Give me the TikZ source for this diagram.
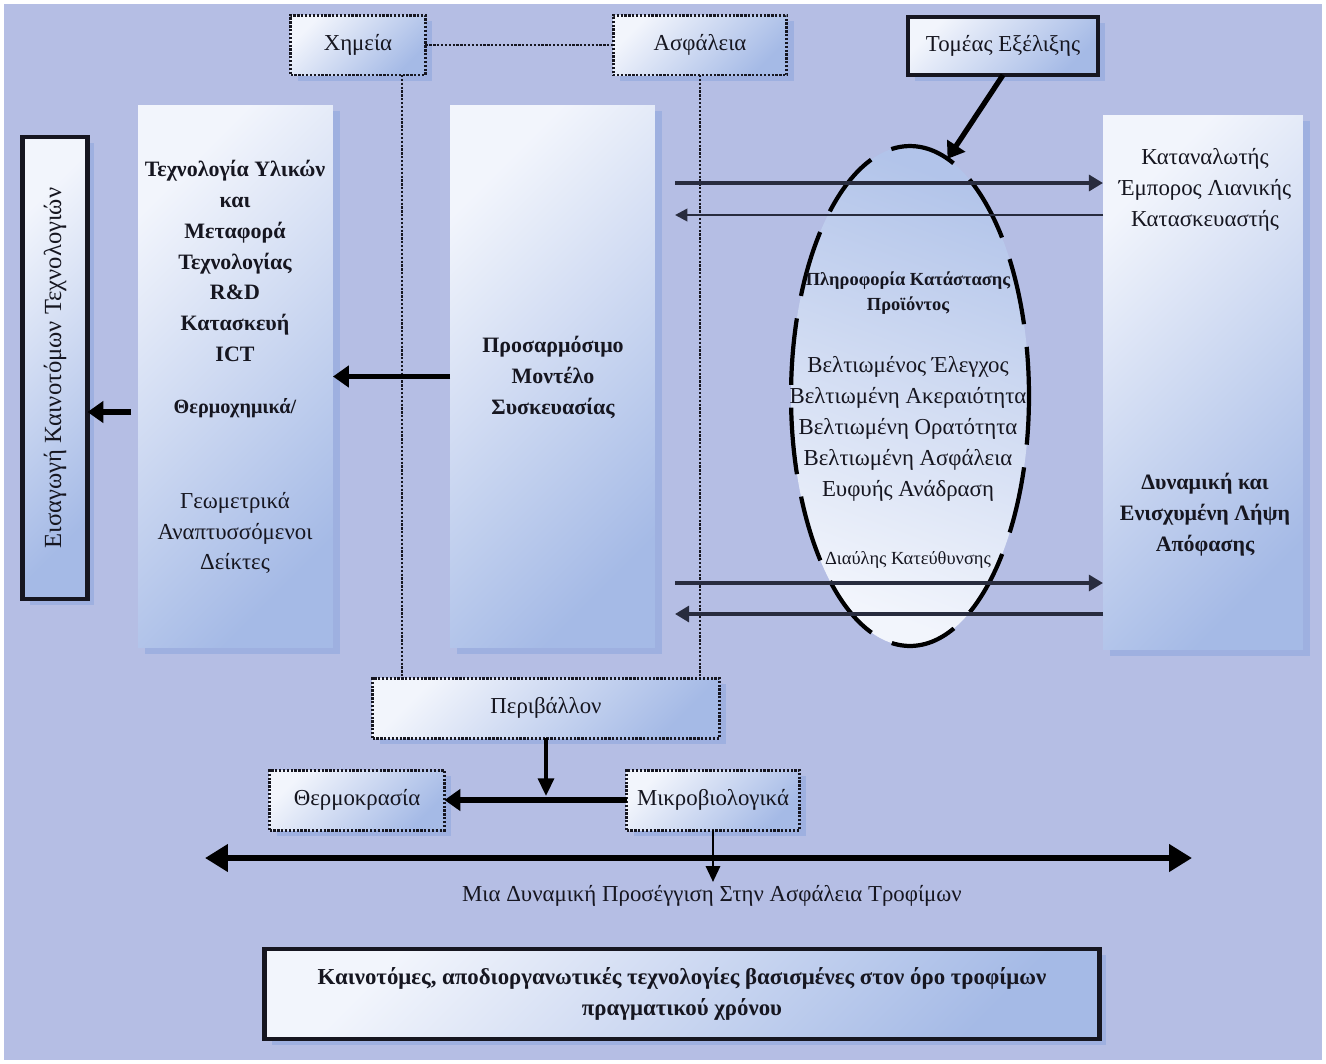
\documentclass[tikz,border=0pt]{standalone}
\usepackage{fontspec}
\setmainfont{Liberation Serif}
\usetikzlibrary{arrows.meta,shapes.geometric,shadows}
\definecolor{bg}{RGB}{181,190,228}
\definecolor{boxlight}{RGB}{242,245,252}
\definecolor{boxdark}{RGB}{165,186,230}
\definecolor{shadowc}{RGB}{158,176,224}
\definecolor{ink}{RGB}{22,22,32}
\definecolor{arrowc}{RGB}{40,44,62}
\begin{document}
\begin{tikzpicture}[x=0.02cm,y=-0.02cm,
  panel/.style={inner sep=0pt, outer sep=0pt, top color=boxlight, bottom color=boxdark, shading angle=45,
     general shadow={fill=shadowc, draw=none, shadow xshift=0.14cm, shadow yshift=-0.12cm}},
  dotbox/.style={panel, draw=ink, line width=1.7pt, dash pattern=on 1.3pt off 0.9pt},
  thickbox/.style={panel, draw=ink, line width=2.4pt},
  txt/.style={inner sep=0pt, outer sep=0pt, text=ink, align=center},
  reg/.style={font=\fontsize{13}{17.6}\selectfont},
  bld/.style={font=\fontsize{12.5}{17.6}\selectfont\bfseries},
  dotline/.style={draw=ink, line width=1.6pt, dash pattern=on 1.3pt off 0.9pt},
  bigarr/.style={draw=black, line width=3pt, -{Triangle[length=9pt,width=12pt]}},
  medarr/.style={draw=arrowc, line width=2.2pt, -{Triangle[length=8pt,width=9pt]}},
  thinarr/.style={draw=black, line width=1.5pt, -{Triangle[length=7pt,width=7pt]}}
]
\useasboundingbox (0,0) rectangle (1326,1063);
\fill[white] (0,0) rectangle (1326,1063);
\fill[bg] (4,4) rectangle (1322,1060);

% top boxes
\node[dotbox, minimum width=2.7cm, minimum height=1.2cm] (chem) at (358,45) {};
\node[txt, reg] (chemt) at (chem) {Χημεία};
\node[dotbox, minimum width=3.48cm, minimum height=1.2cm] (asf) at (700,45) {};
\node[txt, reg] (asft) at (asf) {Ασφάλεια};
\node[thickbox, minimum width=3.8cm, minimum height=1.16cm] (tom) at (1003,46) {};
\node[txt, reg] (tomt) at (tom) {Τομέας Εξέλιξης};

% tall panels
\node[thickbox, minimum width=1.3cm, minimum height=9.24cm] (vbox) at (55,368) {};
\node[txt, font=\fontsize{14}{16}\selectfont, rotate=90] (vboxt) at (vbox) {Εισαγωγή Καινοτόμων Τεχνολογιών};
\node[panel, minimum width=3.9cm, minimum height=10.86cm] (lbox) at (235.5,376.5) {};
\node[panel, minimum width=4.1cm, minimum height=10.86cm] (cbox) at (552.5,376.5) {};
\node[panel, minimum width=4.0cm, minimum height=10.7cm] (rbox) at (1203,382.5) {};

% left panel texts
\node[txt, bld] (lt1) at (235,261) {Τεχνολογία Υλικών\\και\\Μεταφορά\\Τεχνολογίας\\R\&D\\Κατασκευή\\ICT};
\node[txt, font=\fontsize{11.5}{14}\selectfont\bfseries] (lt2) at (235,408) {Θερμοχημικά/};
\node[txt, reg] (lt3) at (235,533) {Γεωμετρικά\\Αναπτυσσόμενοι\\Δείκτες};

% centre panel text
\node[txt, bld] (ct) at (553,377) {Προσαρμόσιμο\\Μοντέλο\\Συσκευασίας};

% right panel texts
\node[txt, reg] (rt1) at (1205,190) {Καταναλωτής\\Έμπορος Λιανικής\\Κατασκευαστής};
\node[txt, bld] (rt2) at (1205,515) {Δυναμική και\\Ενισχυμένη Λήψη\\Απόφασης};

% ellipse
\node[ellipse, draw=black, line width=2.4pt, dash pattern=on 38pt off 13pt, dash phase=10pt,
      top color=boxdark!85!white, bottom color=boxlight, shading angle=-20,
      minimum width=4.76cm, minimum height=10cm, inner sep=0pt, outer sep=0pt] (ell) at (910,396) {};
\node[txt, font=\fontsize{10.5}{14}\selectfont\bfseries] (et1) at (908,293) {Πληροφορία Κατάστασης\\Προϊόντος};
\node[txt, reg] (et2) at (908,429) {Βελτιωμένος Έλεγχος\\Βελτιωμένη Ακεραιότητα\\Βελτιωμένη Ορατότητα\\Βελτιωμένη Ασφάλεια\\Ευφυής Ανάδραση};
\node[txt, font=\fontsize{10.5}{13}\selectfont] (et3) at (908,560) {Διαύλης Κατεύθυνσης};

% bottom boxes
\node[dotbox, minimum width=6.94cm, minimum height=1.2cm] (env) at (546,708) {};
\node[txt, reg] (envt) at (env) {Περιβάλλον};
\node[dotbox, minimum width=3.5cm, minimum height=1.2cm] (therm) at (357,800) {};
\node[txt, reg] (thermt) at (therm) {Θερμοκρασία};
\node[dotbox, minimum width=3.46cm, minimum height=1.2cm] (mic) at (713,800) {};
\node[txt, reg] (mict) at (mic) {Μικροβιολογικά};
\node[thickbox, minimum width=16.7cm, minimum height=1.8cm] (bot) at (682,994) {};
\node[txt, font=\fontsize{13}{17.5}\selectfont\bfseries] (bott) at (bot) {Καινοτόμες, αποδιοργανωτικές τεχνολογίες βασισμένες στον όρο τροφίμων\\πραγματικού χρόνου};
\node[txt, reg] (approach) at (712,896) {Μια Δυναμική Προσέγγιση Στην Ασφάλεια Τροφίμων};

% dotted connectors
\coordinate (cx) at (402,0);
\draw[dotline] (chem.east) -- (asf.west);
\draw[dotline] (chem.south -| cx) -- (env.north -| cx);
\draw[dotline] (asf.south) -- (asf.south |- env.north);

% arrows in the panel area
\coordinate (a1) at (675,183);
\coordinate (a2) at (675,215);
\coordinate (a3) at (675,583);
\coordinate (a4) at (675,614);
\draw[medarr] (a1) -- (a1 -| rbox.west);
\draw[thinarr, draw=arrowc] (a2 -| rbox.west) -- (a2);
\draw[medarr, line width=1.9pt] (a3) -- (a3 -| rbox.west);
\draw[medarr, line width=2.4pt] (a4 -| rbox.west) -- (a4);

\draw[bigarr] (tom.south) -- (ell.81);
\draw[bigarr] (cbox.west) -- (cbox.west -| lbox.east);
\coordinate (a5) at (131,412);
\draw[bigarr] (a5) -- (a5 -| vbox.east);

% bottom arrows
\coordinate (a6) at (546,796);
\draw[thinarr, line width=2pt, -{Triangle[length=10pt,width=9pt]}] (env.south) -- (a6);
\draw[bigarr] (mic.west) -- (therm.east);
\coordinate (dl) at (205,858);
\coordinate (dr) at (1192,858);
\draw[line width=3.4pt, {Triangle[length=13pt,width=15pt]}-{Triangle[length=13pt,width=15pt]}] (dl) -- (dr);
\coordinate (a7) at (713,882);
\draw[thinarr, -{Triangle[length=9pt,width=8pt]}] (mic.south) -- (a7);
\end{tikzpicture}
\end{document}
